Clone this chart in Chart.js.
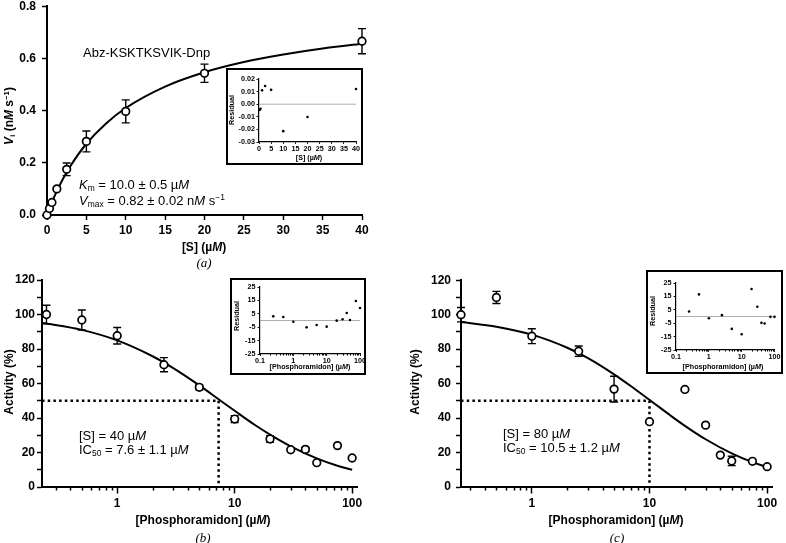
<!DOCTYPE html>
<html>
<head>
<meta charset="utf-8">
<script src="https://cdn.jsdelivr.net/npm/chart.js@4.4.1/dist/chart.umd.min.js"></script>
<style>
  body { margin: 0; background: #fff; }
  #page { position: relative; width: 786px; height: 543px; overflow: hidden; font-family: "Liberation Sans", Arial, sans-serif; color: #000; }
  canvas { position: absolute; }
  .txt { position: absolute; white-space: nowrap; line-height: 1; }
  .c { transform: translate(-50%, -50%); }
  .l { transform: translateY(-50%); }
  .r { transform: translate(-50%, -50%) rotate(-90deg); }
  .ttl { font-weight: bold; font-size: 12px; }
  .note { font-size: 13px; }
  .small { font-weight: bold; font-size: 7.2px; }
  .cap { font-family: "Liberation Serif", "Times New Roman", serif; font-style: italic; font-size: 13px; }
  .sub { font-size: 0.65em; vertical-align: -0.25em; }
  .sup { font-size: 0.65em; vertical-align: 0.6em; }
  .box { position: absolute; border: 2px solid #000; background: #fff; box-sizing: border-box; }
</style>
</head>
<body>
<div id="page">
  <canvas id="chartA"></canvas>
  <canvas id="chartB"></canvas>
  <canvas id="chartC"></canvas>

  <div class="box" style="left:226px;top:68px;width:137px;height:97px"></div>
  <div class="box" style="left:230px;top:278px;width:136px;height:97px"></div>
  <div class="box" style="left:646px;top:270px;width:137px;height:104px"></div>

  <canvas id="residA"></canvas>
  <canvas id="residB"></canvas>
  <canvas id="residC"></canvas>

  <!-- panel a text -->
  <div class="txt ttl r" style="left:10px;top:116px"><i>V</i><span class="sub">i</span> (n<i>M</i> s<span class="sup">−1</span>)</div>
  <div class="txt ttl c" style="left:204px;top:247px">[S] (µ<i>M</i>)</div>
  <div class="txt cap c" style="left:204px;top:262px">(<i>a</i>)</div>
  <div class="txt note l" style="left:83px;top:52px">Abz-KSKTKSVIK-Dnp</div>
  <div class="txt note l" style="left:79px;top:185px"><i>K</i><span class="sub">m</span> = 10.0 ± 0.5 µ<i>M</i></div>
  <div class="txt note l" style="left:79px;top:201px"><i>V</i><span class="sub">max</span> = 0.82 ± 0.02 n<i>M</i> s<span class="sup">−1</span></div>
  <div class="txt small r" style="left:232px;top:110px">Residual</div>
  <div class="txt small c" style="left:309px;top:158px">[S] (µ<i>M</i>)</div>

  <!-- panel b text -->
  <div class="txt ttl r" style="left:9px;top:382px">Activity (%)</div>
  <div class="txt ttl c" style="left:203px;top:520px">[Phosphoramidon] (µ<i>M</i>)</div>
  <div class="txt cap c" style="left:203px;top:537px">(<i>b</i>)</div>
  <div class="txt note l" style="left:79px;top:435px">[S] = 40 µ<i>M</i></div>
  <div class="txt note l" style="left:79px;top:450px">IC<span class="sub">50</span> = 7.6 ± 1.1 µ<i>M</i></div>
  <div class="txt small r" style="left:237px;top:316px">Residual</div>
  <div class="txt small c" style="left:310px;top:367px">[Phosphoramidon] (µ<i>M</i>)</div>

  <!-- panel c text -->
  <div class="txt ttl r" style="left:415px;top:382px">Activity (%)</div>
  <div class="txt ttl c" style="left:616px;top:520px">[Phosphoramidon] (µ<i>M</i>)</div>
  <div class="txt cap c" style="left:617px;top:537px">(<i>c</i>)</div>
  <div class="txt note l" style="left:503px;top:433px">[S] = 80 µ<i>M</i></div>
  <div class="txt note l" style="left:503px;top:448px">IC<span class="sub">50</span> = 10.5 ± 1.2 µ<i>M</i></div>
  <div class="txt small r" style="left:653px;top:311px">Residual</div>
  <div class="txt small c" style="left:723px;top:367px">[Phosphoramidon] (µ<i>M</i>)</div>
</div>

<script>
// panel a: initial rate vs substrate
const sConc = [0, 0.3125, 0.625, 1.25, 2.5, 5, 10, 20, 40];
const rate = [0, 0.025, 0.048, 0.100, 0.175, 0.282, 0.397, 0.543, 0.666];
const rateErr = [0, 0, 0, 0, 0.024, 0.040, 0.044, 0.035, 0.048];
const fitS = [0, 1, 2, 3, 5, 7.5, 10, 15, 20, 25, 30, 35, 40];
const fitRate = [0, 0.075, 0.137, 0.189, 0.273, 0.351, 0.410, 0.492, 0.547, 0.586, 0.615, 0.638, 0.656];
const residS = [0.3125, 0.625, 1.25, 2.5, 5, 10, 20, 40];
const residA = [-0.0045, -0.0036, 0.0110, 0.0145, 0.0114, -0.0214, -0.0101, 0.0121];

// panels b and c: inhibition by phosphoramidon
const inhib = [0.25, 0.5, 1, 2.5, 5, 10, 20, 30, 40, 50, 75, 100];
const actB = [100, 96.8, 87.7, 70.9, 57.8, 39.4, 27.8, 21.6, 21.8, 14.1, 24.0, 16.8];
const errB = [5.4, 5.8, 4.8, 4.1, 1.5, 2.0, 1.9, 0, 1.2, 0, 0, 0];
const fitXB = [0.229, 0.5, 1, 2, 3, 5, 7.6, 10, 15, 20, 30, 50, 75, 100];
const fitB = [95.2, 91.1, 85.0, 75.8, 68.9, 58.9, 50.0, 44.2, 35.8, 30.4, 23.6, 16.6, 12.3, 10.0];
const residB = [3.1, 2.6, -0.9, -5.1, -3.4, -4.6, -0.1, 0.9, 5.6, 0.4, 14.6, 9.3];
const ic50B = 7.3;

const actC = [100, 110, 87.5, 78.8, 56.8, 37.9, 56.6, 35.9, 18.5, 15.1, 14.9, 11.8];
const errC = [4.2, 3.5, 4.3, 3.0, 7.5, 0, 1.0, 0, 0, 2.7, 0, 0];
const fitXC = [0.25, 0.5, 1, 2, 3, 5, 7.5, 10.5, 15, 20, 30, 50, 75, 100];
const fitC = [95.7, 93.0, 88.4, 80.8, 74.8, 65.4, 56.9, 49.5, 41.6, 35.5, 27.7, 19.5, 14.4, 11.5];
const residC = [3.75, 16.5, -1.25, 1.0, -9.25, -13.25, 20.5, 7.25, -4.75, -5.25, -0.25, -0.25];
const ic50C = 10;

// axis ranges and tick values
const xRangeB = [0.229, 110];
const xRangeC = [0.25, 110];
const logMajor = [1, 10, 100];
const logMinor = [0.3, 0.4, 0.5, 0.6, 0.7, 0.8, 0.9, 2, 3, 4, 5, 6, 7, 8, 9, 20, 30, 40, 50, 60, 70, 80, 90];
const insetMajor = [0.1, 1, 10, 100];
const insetMinor = [0.2, 0.3, 0.4, 0.5, 0.6, 0.7, 0.8, 0.9, 2, 3, 4, 5, 6, 7, 8, 9, 20, 30, 40, 50, 60, 70, 80, 90];

const FAMILY = "'Liberation Sans', Arial, sans-serif";
const bigFont = { family: FAMILY, size: 12, weight: 'bold' };
const tinyFont = { family: FAMILY, size: 7.2, weight: 'bold' };

const pts = (xs, ys) => xs.map((x, i) => ({ x: x, y: ys[i] }));

// error bars drawn under the open circles
const errorBars = {
  id: 'errorBars',
  beforeDatasetsDraw(chart) {
    const { ctx, scales: { x, y } } = chart;
    chart.data.datasets.forEach(ds => {
      if (!ds.errors) return;
      ctx.save();
      ctx.strokeStyle = '#000';
      ctx.lineWidth = 1.4;
      ds.data.forEach((p, i) => {
        const e = ds.errors[i];
        if (!e) return;
        const px = x.getPixelForValue(p.x);
        const top = y.getPixelForValue(p.y + e);
        const bot = y.getPixelForValue(p.y - e);
        ctx.beginPath();
        ctx.moveTo(px, top); ctx.lineTo(px, bot);
        ctx.moveTo(px - 4, top); ctx.lineTo(px + 4, top);
        ctx.moveTo(px - 4, bot); ctx.lineTo(px + 4, bot);
        ctx.stroke();
      });
      ctx.restore();
    });
  }
};

// short ticks for the log axes
const minorTicks = {
  id: 'minorTicks',
  afterDraw(chart, args, opts) {
    if (!opts.values) return;
    const { ctx, chartArea, scales: { x } } = chart;
    ctx.save();
    ctx.strokeStyle = '#000';
    ctx.lineWidth = opts.width;
    opts.values.forEach(v => {
      if (v < x.min || v > x.max) return;
      const px = Math.round(x.getPixelForValue(v)) + 0.5;
      ctx.beginPath();
      ctx.moveTo(px, chartArea.bottom);
      ctx.lineTo(px, chartArea.bottom + opts.len);
      ctx.stroke();
    });
    ctx.restore();
  }
};

function axis(opt, font, tl, pad, bw) {
  return Object.assign({
    border: { display: true, color: '#000', width: bw },
    grid: { drawOnChartArea: false, drawTicks: true, tickLength: tl, tickColor: '#000', tickWidth: bw * 0.75 },
  }, opt, {
    ticks: Object.assign({ color: '#000', font: font, padding: pad, maxRotation: 0, autoSkip: false }, opt.ticks || {})
  });
}

// box = plot area on the page [left, top, right, bottom]; m = room for labels [l, t, r, b]
function build(id, box, m, datasets, x, y, minor) {
  const c = document.getElementById(id);
  c.width = box[2] - box[0] + m[0] + m[2];
  c.height = box[3] - box[1] + m[1] + m[3];
  c.style.left = (box[0] - m[0]) + 'px';
  c.style.top = (box[1] - m[1]) + 'px';
  x.afterFit = s => { s.height = m[3]; };
  y.afterFit = s => { s.width = m[0]; };
  return new Chart(c, {
    type: 'scatter',
    data: { datasets: datasets },
    options: {
      responsive: false,
      animation: false,
      layout: { padding: { left: 0, top: m[1], right: m[2], bottom: 0 } },
      plugins: { legend: { display: false }, tooltip: { enabled: false }, minorTicks: minor || {} },
      scales: { x: x, y: y }
    },
    plugins: [errorBars, minorTicks]
  });
}

function openPoints(xs, ys, errs) {
  return {
    data: pts(xs, ys), errors: errs, order: 0, clip: false,
    pointRadius: 3.8, pointBorderWidth: 1.7, pointBackgroundColor: '#fff', pointBorderColor: '#000'
  };
}
function fitLine(xs, ys) {
  return {
    data: pts(xs, ys), showLine: true, pointRadius: 0, borderColor: '#000', borderWidth: 2,
    cubicInterpolationMode: 'monotone', order: 2
  };
}
function dotLine(xMin, ic50) {
  return {
    data: [{ x: xMin, y: 50 }, { x: ic50, y: 50 }, { x: ic50, y: 0 }],
    showLine: true, pointRadius: 0, borderColor: '#000', borderWidth: 2.5,
    borderDash: [2.5, 3.2], borderCapStyle: 'butt', tension: 0, order: 3
  };
}
function dots(xs, ys) {
  return { data: pts(xs, ys), pointRadius: 1.3, pointBorderWidth: 0, pointBackgroundColor: '#000', order: 0, clip: false };
}
function zeroLine(x0, x1) {
  return { data: [{ x: x0, y: 0 }, { x: x1, y: 0 }], showLine: true, pointRadius: 0, borderColor: '#999', borderWidth: 0.8, order: 1 };
}

// ---- panel a ----
build('chartA', [47, 5, 362, 215], [50, 12, 16, 30],
  [openPoints(sConc, rate, rateErr), fitLine(fitS, fitRate)],
  axis({ type: 'linear', min: 0, max: 40, ticks: { stepSize: 5 } }, bigFont, 5, 3.5, 2),
  axis({ type: 'linear', min: 0, max: 0.8, ticks: { stepSize: 0.2, callback: v => v.toFixed(1) } }, bigFont, 5, 6, 2));

build('residA', [259, 79, 356, 142], [30, 8, 10, 14],
  [dots(residS, residA), zeroLine(0, 40)],
  axis({ type: 'linear', min: 0, max: 40, ticks: { stepSize: 5 } }, tinyFont, 2, 1, 1.2),
  axis({ type: 'linear', min: -0.03, max: 0.02, ticks: { stepSize: 0.01, callback: v => (Math.abs(v) < 1e-9 ? 0 : v).toFixed(2) } }, tinyFont, 2.5, 1.5, 1.2));

// ---- panel b ----
const logX = (range, majors) => ({
  type: 'logarithmic', min: range[0], max: range[1],
  afterBuildTicks: s => { s.ticks = majors.map(v => ({ value: v })); },
  ticks: { callback: v => String(v) }
});
const pctY = {
  type: 'linear', min: 0, max: 120,
  ticks: { stepSize: 10, callback: v => (v % 20 === 0 ? String(v) : '') }
};
const resY = { type: 'linear', min: -25, max: 25, ticks: { stepSize: 10 } };

build('chartB', [42, 280, 357, 487], [50, 12, 16, 30],
  [openPoints(inhib, actB, errB), fitLine(fitXB, fitB), dotLine(xRangeB[0], ic50B)],
  axis(logX(xRangeB, logMajor), bigFont, 6.5, 3, 2),
  axis(pctY, bigFont, 5, 2, 2),
  { values: logMinor, len: 3.5, width: 1.5 });

build('residB', [260, 287, 360, 354], [30, 8, 10, 14],
  [dots(inhib, residB), zeroLine(0.1, 100)],
  axis(logX([0.1, 100], insetMajor), tinyFont, 2, 0.5, 1.2),
  axis(resY, tinyFont, 2.5, 2, 1.2),
  { values: insetMinor, len: 1.5, width: 1 });

// ---- panel c ----
build('chartC', [461, 280, 772, 487], [50, 12, 14, 30],
  [openPoints(inhib, actC, errC), fitLine(fitXC, fitC), dotLine(xRangeC[0], ic50C)],
  axis(logX(xRangeC, logMajor), bigFont, 6.5, 3, 2),
  axis(pctY, bigFont, 5, 5, 2),
  { values: logMinor, len: 3.5, width: 1.5 });

build('residC', [676, 283, 775, 350], [30, 8, 6, 14],
  [dots(inhib, residC), zeroLine(0.1, 100)],
  axis(logX([0.1, 100], insetMajor), tinyFont, 2, 0.5, 1.2),
  axis(resY, tinyFont, 2.5, 2, 1.2),
  { values: insetMinor, len: 1.5, width: 1 });
</script>
</body>
</html>
